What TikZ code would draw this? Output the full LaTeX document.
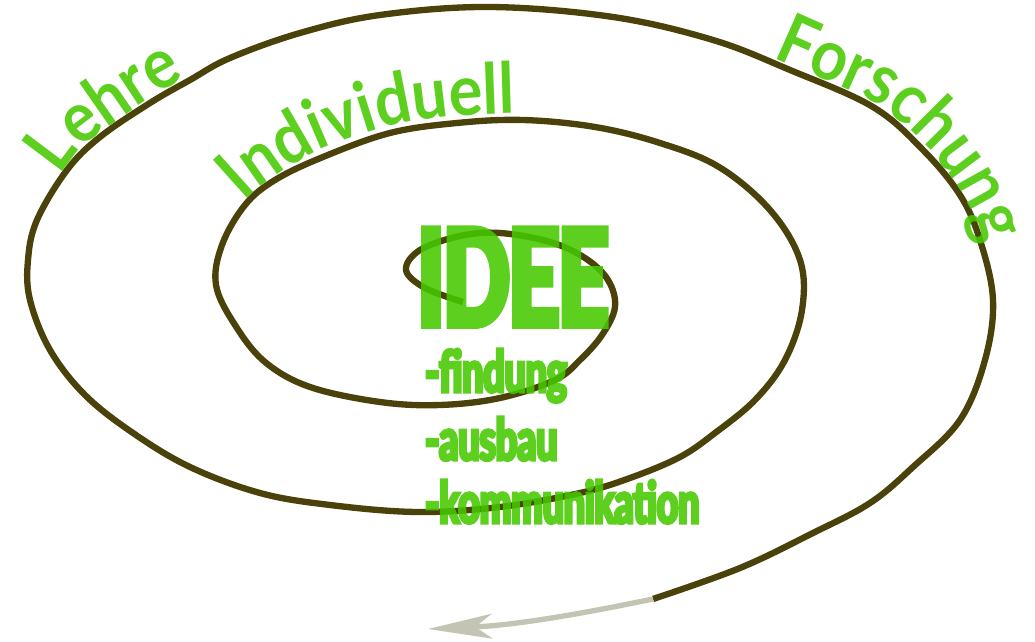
\documentclass[tikz,border=0pt]{standalone}
\usepackage{fontspec}
\setmainfont{Lato}
\newfontfamily\arcfont[FakeStretch=0.9]{Lato}
\newfontfamily\ideafont[FakeStretch=0.65,FakeBold=6,Ligatures=NoCommon]{Lato}
\usetikzlibrary{arrows.meta,decorations.text}
\definecolor{spiralbrown}{RGB}{74,66,10}
\definecolor{leafgreen}{RGB}{70,200,0}
\definecolor{tailgray}{RGB}{196,196,180}

\begin{document}
\begin{tikzpicture}[x=0.025cm,y=-0.025cm,
	spiralline/.style={draw=spiralbrown,line width=4.5pt},
	fadedtail/.style={draw=tailgray,line width=3.8pt,-{Stealth[length=1.6cm,width=0.62cm,inset=0.42cm]}},
	arclabel/.style={decorate,decoration={text along path,text align=center,text color=leafgreen,
		text={|\arcfont\fontsize{50}{50}\selectfont\bfseries|#1}}},
	idealine/.style={text=leafgreen,anchor=base west,inner sep=0pt,font=\ideafont\bfseries\fontsize{41}{41}\selectfont}]
	\useasboundingbox (0,0) rectangle (1035,642);
	\coordinate (spiralend) at (653,599);
	\coordinate (arrowtip) at (428,629);
	% spiral, from the centre outwards
	\draw[spiralline] plot[smooth,tension=0.6] coordinates {(463,302) (425,288) (406,270) (420,250) (460,236)
		(500,233) (550,242) (585,258) (608,280) (615,307) (602,335) (580,360) (555,380) (500,398) (440,405)
		(380,402) (310,387) (265,362) (235,325) (216,285) (222,245) (245,205) (275,180) (323,157) (390,133)
		(457,123) (523,120) (595,127) (660,143) (719,167) (770,210) (800,260) (802,310) (785,360) (755,400)
		(715,433) (680,457) (630,478) (580,493) (500,507) (417,512) (330,505) (260,493) (190,467) (133,433)
		(85,395) (50,350) (30,300) (28,260) (37,220) (67,170) (100,137) (150,103) (190,80) (230,58) (300,33)
		(380,15) (490,7) (613,17) (713,40) (790,70) (873,107) (923,150) (960,195) (980,240) (993,300)
		(985,360) (960,420) (913,467) (870,503) (813,533) (740,568) (653,599)};
	\draw[fadedtail] (spiralend) .. controls (590,612) and (520,625) .. (arrowtip);
	\begin{scope}[transparency group,opacity=0.88]
		\path[arclabel=Lehre] plot[smooth] coordinates {(25,232) (42,205) (58,178) (82,147) (115,122) (160,92) (205,68) (245,50)};
		\path[arclabel=Individuell] plot[smooth] coordinates {(210,245) (236,210) (270,180) (320,150) (388,126) (457,116) (525,113) (570,113)};
		\path[arclabel=Forschung] plot[smooth] coordinates {(705,34) (755,50) (790,65) (875,103) (926,146) (962,194) (982,240) (990,285) (991,315)};
		\node[idealine,font=\ideafont\bfseries\fontsize{94}{94}\selectfont] (idee) at (418,325) {IDEE};
		\node[idealine] (findung) at (425,392) {-findung};
		\node[idealine] (ausbau) at (425,460) {-ausbau};
		\node[idealine] (kommunikation) at (425,523) {-kommunikation};
	\end{scope}
\end{tikzpicture}
\end{document}
